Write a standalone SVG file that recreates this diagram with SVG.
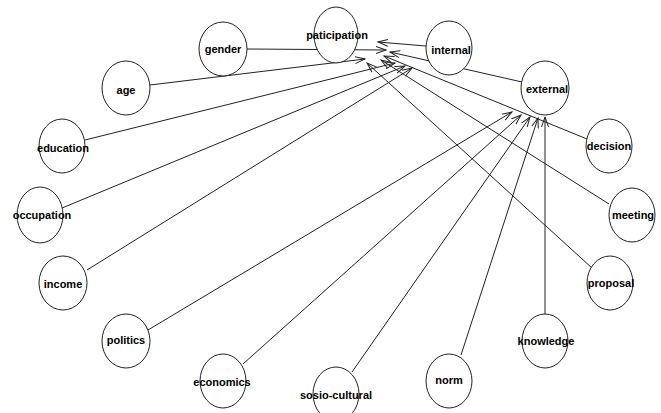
<svg xmlns="http://www.w3.org/2000/svg" width="661" height="413" viewBox="0 0 661 413">
<style>
.e{fill:#fff;stroke:#222;stroke-width:1}
.t{font-family:"Liberation Sans",Arial,sans-serif;font-weight:bold;font-size:11px;fill:#000;text-anchor:middle;dominant-baseline:central}
.c line{stroke:#222;stroke-width:1;marker-end:url(#a)}
</style>
<defs>
<marker id="a" markerUnits="userSpaceOnUse" markerWidth="12" markerHeight="10" refX="10" refY="5" orient="auto" viewBox="0 0 12 10">
<path d="M0,1.5 L10,5 L0,8.5" fill="none" stroke="#222" stroke-width="1"/>
</marker>
</defs>
<rect width="661" height="413" fill="#fff"/>
<g class="c" id="connectors">
<line x1="247" y1="49" x2="386" y2="50"/>
<line x1="150" y1="85" x2="365" y2="59"/>
<line x1="85" y1="140" x2="395" y2="63"/>
<line x1="62" y1="208" x2="405" y2="66"/>
<line x1="87" y1="270" x2="412" y2="68"/>
<line x1="426" y1="46" x2="378" y2="42"/>
<line x1="522" y1="82" x2="390" y2="52"/>
<line x1="587" y1="139" x2="384" y2="56"/>
<line x1="609" y1="204" x2="381" y2="60"/>
<line x1="592" y1="268" x2="367" y2="63"/>
<line x1="148" y1="330" x2="512" y2="112"/>
<line x1="243" y1="364" x2="521" y2="115"/>
<line x1="352" y1="372" x2="530" y2="117"/>
<line x1="461" y1="355" x2="538" y2="118"/>
<line x1="545" y1="314" x2="545" y2="117"/>
</g>
<g id="paticipation"><ellipse class="e" cx="336" cy="35" rx="22" ry="28"/><text class="t" x="337" y="35">paticipation</text></g>
<g id="gender"><ellipse class="e" cx="223" cy="49" rx="24" ry="27"/><text class="t" x="223" y="49">gender</text></g>
<g id="internal"><ellipse class="e" cx="449" cy="48" rx="23" ry="27"/><text class="t" x="451" y="50">internal</text></g>
<g id="external"><ellipse class="e" cx="545" cy="88" rx="24" ry="27"/><text class="t" x="547" y="89">external</text></g>
<g id="age"><ellipse class="e" cx="126" cy="88" rx="24" ry="27"/><text class="t" x="126" y="90">age</text></g>
<g id="education"><ellipse class="e" cx="62" cy="146" rx="23" ry="27"/><text class="t" x="63" y="148">education</text></g>
<g id="occupation"><ellipse class="e" cx="40" cy="215" rx="23" ry="28"/><text class="t" x="42" y="215">occupation</text></g>
<g id="income"><ellipse class="e" cx="63" cy="283" rx="24" ry="27"/><text class="t" x="63" y="284">income</text></g>
<g id="politics"><ellipse class="e" cx="126" cy="341" rx="24" ry="27"/><text class="t" x="126" y="340">politics</text></g>
<g id="economics"><ellipse class="e" cx="223" cy="381" rx="23" ry="27"/><text class="t" x="222" y="382">economics</text></g>
<g id="sosio-cultural"><ellipse class="e" cx="336" cy="394" rx="23" ry="27"/><text class="t" x="336" y="395">sosio-cultural</text></g>
<g id="norm"><ellipse class="e" cx="449" cy="381" rx="23" ry="27"/><text class="t" x="449" y="380">norm</text></g>
<g id="knowledge"><ellipse class="e" cx="545" cy="341" rx="23" ry="27"/><text class="t" x="546" y="341">knowledge</text></g>
<g id="proposal"><ellipse class="e" cx="610" cy="283" rx="23" ry="27"/><text class="t" x="611" y="283">proposal</text></g>
<g id="meeting"><ellipse class="e" cx="632" cy="215" rx="23" ry="27"/><text class="t" x="633" y="215">meeting</text></g>
<g id="decision"><ellipse class="e" cx="609" cy="146" rx="23" ry="27"/><text class="t" x="609" y="146">decision</text></g>
</svg>
